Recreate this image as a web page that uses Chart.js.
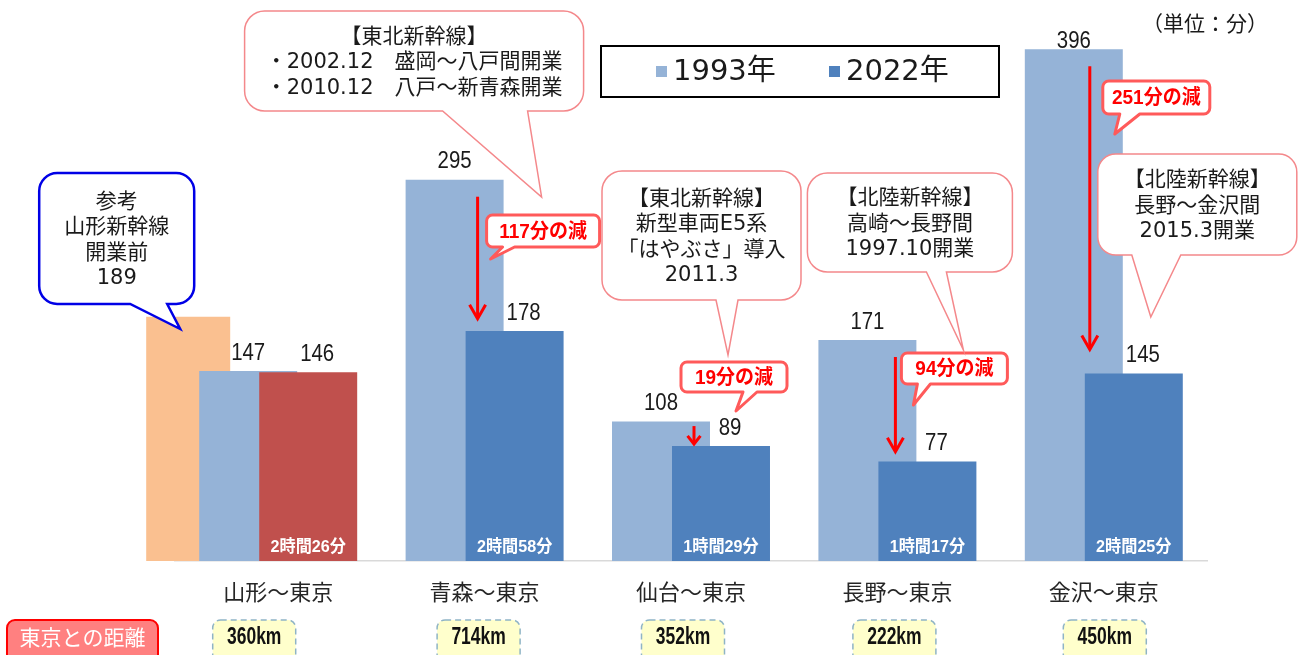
<!DOCTYPE html>
<html lang="ja">
<head>
<meta charset="utf-8">
<script src="https://cdn.jsdelivr.net/npm/chart.js@4/dist/chart.umd.min.js"></script>
<style>
html,body{margin:0;padding:0;background:#fff;}
#wrap{width:1299px;height:655px;position:relative;overflow:hidden;}
canvas{display:block;}
</style>
</head>
<body>
<div id="wrap"><canvas id="c" width="1299" height="655"></canvas></div>
<script>
// ---- data ----
const categories = ['山形～東京', '青森～東京', '仙台～東京', '長野～東京', '金沢～東京'];
const minutes1993 = [147, 295, 108, 171, 396];
const minutes2022 = [146, 178, 89, 77, 145];
const yamagataBeforeOpening = [189, null, null, null, null];
const distanceKm = [360, 714, 352, 222, 450];
const seriesLabels = ['1993年', '2022年'];
const referenceLabel = '山形新幹線開業前';
const unitNote = '（単位：分）';
const distanceTitle = '東京との距離';
const noteTexts = [
  ['参考', '山形新幹線', '開業前', String(yamagataBeforeOpening[0])],
  ['【東北新幹線】', '・2002.12　盛岡～八戸間開業', '・2010.12　八戸～新青森開業'],
  ['【東北新幹線】', '新型車両E5系', '「はやぶさ」導入', '2011.3'],
  ['【北陸新幹線】', '高崎～長野間', '1997.10開業'],
  ['【北陸新幹線】', '長野～金沢間', '2015.3開業']
];

// ---- styles / layout ----
const C_REF = '#fac090', C_1993 = '#95b3d7', C_2022 = '#4f81bd', C_YAMA = '#c0504d';
const colors2022 = categories.map((c, i) => i === 0 ? C_YAMA : C_2022);
const JP = '"Noto Sans CJK JP", "Noto Sans", sans-serif';
const NOTE = '"DejaVu Sans", "Noto Sans CJK JP", sans-serif';
const NUM = '"Liberation Sans", Arial, "Noto Sans CJK JP", sans-serif';

// callout boxes: x offsets relative to category centre, y in pixels
const noteBoxes = [
  {dx: -239, w: 155, y: 173, h: 131, r: 18, b: [-148, -111], tip: [-98, 329], color: '#0000e6', lw: 2.5},
  {dx: -240, w: 339, y: 11, h: 100, r: 20, b: [-42, 43], tip: [57, 197], color: '#f4888b', lw: 1.5},
  {dx: -89, w: 199, y: 171, h: 129, r: 20, b: [25, 47], tip: [37, 355], color: '#f4888b', lw: 1.5},
  {dx: -90, w: 205, y: 173, h: 99, r: 20, b: [29, 49], tip: [66, 350], color: '#f4888b', lw: 1.5},
  {dx: -6, w: 199, y: 154, h: 101, r: 18, b: [28, 77], tip: [47, 317], color: '#f4888b', lw: 1.5}
];
const dropBoxes = [
  null,
  {dx: 2, w: 113, y: 215, h: 32, b: [18, 30], tip: [6, 259], arrowDx: -7},
  {dx: -10, w: 106, y: 362, h: 30, b: [52, 66], tip: [45, 411], arrowDx: 3},
  {dx: 4, w: 106, y: 353, h: 31, b: [20, 33], tip: [16, 405], arrowDx: -2},
  {dx: -1, w: 107, y: 81, h: 33, b: [16, 36], tip: [11, 134], arrowDx: -14}
];
const kmDx = [-24, -6, -8, -3, 1];

function callout(ctx, x, y, w, h, r, b1, b2, tx, ty) {
  ctx.beginPath();
  ctx.moveTo(x + r, y);
  ctx.lineTo(x + w - r, y);
  ctx.arcTo(x + w, y, x + w, y + r, r);
  ctx.lineTo(x + w, y + h - r);
  ctx.arcTo(x + w, y + h, x + w - r, y + h, r);
  if (b2 !== undefined) {
    ctx.lineTo(b2, y + h);
    ctx.lineTo(tx, ty);
    ctx.lineTo(b1, y + h);
  }
  ctx.lineTo(x + r, y + h);
  ctx.arcTo(x, y + h, x, y + h - r, r);
  ctx.lineTo(x, y + r);
  ctx.arcTo(x, y, x + r, y, r);
  ctx.closePath();
}

function narrowText(ctx, text, x, y, sx) {
  ctx.save();
  ctx.translate(x, y);
  ctx.scale(sx, 1);
  ctx.fillText(text, 0, 0);
  ctx.restore();
}

// draw datasets back-to-front so the right-hand (newer) bar overlaps the older one
const drawOrder = [0, 1, 2];
const overlapPlugin = {
  id: 'overlapOrder',
  beforeDatasetsDraw(chart) {
    drawOrder.forEach(i => { if (chart.isDatasetVisible(i)) chart.getDatasetMeta(i).controller.draw(); });
    return false;
  }
};

const annotatePlugin = {
  id: 'annotate',
  afterDraw(chart) {
    const ctx = chart.ctx;
    const xs = chart.scales.x;
    const catX = i => xs.getPixelForValue(i);
    const bar = (d, i) => chart.getDatasetMeta(d).data[i];
    ctx.save();

    // arrows and reduction boxes
    categories.forEach((c, i) => {
      const d = dropBoxes[i];
      if (!d) return;
      const b93 = bar(1, i), b22 = bar(2, i);
      const gap = b22.y - b93.y;
      const ax = catX(i) + d.arrowDx;
      const y0 = b93.y + Math.min(17, gap * 0.19);
      const y1 = b22.y - Math.min(24, gap * 0.08);
      const head = Math.min(14, (y1 - y0) * 0.45);
      const hw = Math.min(8, head * 0.8);
      ctx.strokeStyle = '#ff0000';
      ctx.lineWidth = 3;
      ctx.lineJoin = 'miter';
      ctx.beginPath(); ctx.moveTo(ax, y0); ctx.lineTo(ax, y1 - 1); ctx.stroke();
      ctx.beginPath(); ctx.moveTo(ax - hw, y1 - head); ctx.lineTo(ax, y1); ctx.lineTo(ax + hw, y1 - head); ctx.stroke();

      const cx = catX(i);
      const x = cx + d.dx;
      callout(ctx, x, d.y, d.w, d.h, 6, cx + d.b[0], cx + d.b[1], cx + d.tip[0], d.tip[1]);
      ctx.fillStyle = '#ffffff';
      ctx.fill();
      ctx.strokeStyle = '#ff5a5a';
      ctx.lineWidth = 3;
      ctx.lineJoin = 'round';
      ctx.stroke();
      ctx.fillStyle = '#ff0000';
      ctx.font = '700 20px ' + NUM;
      ctx.textAlign = 'center';
      ctx.textBaseline = 'middle';
      narrowText(ctx, (minutes1993[i] - minutes2022[i]) + '分の減', x + d.w / 2, d.y + d.h / 2 + 1, 0.95);
    });

    // note callouts
    noteBoxes.forEach((n, i) => {
      const cx = catX(i);
      const x = cx + n.dx;
      callout(ctx, x, n.y, n.w, n.h, n.r, cx + n.b[0], cx + n.b[1], cx + n.tip[0], n.tip[1]);
      ctx.fillStyle = '#ffffff';
      ctx.fill();
      ctx.strokeStyle = n.color;
      ctx.lineWidth = n.lw;
      ctx.lineJoin = 'miter';
      ctx.stroke();
      const lines = noteTexts[i];
      const lh = 25.5;
      const midY = n.y + n.h / 2 + 2;
      ctx.fillStyle = '#1a1a1a';
      ctx.font = '21px ' + NOTE;
      ctx.textAlign = 'center';
      ctx.textBaseline = 'middle';
      lines.forEach((t, k) => {
        ctx.fillText(t, x + n.w / 2, midY + (k - (lines.length - 1) / 2) * lh);
      });
    });

    // value labels
    ctx.fillStyle = '#1a1a1a';
    ctx.font = '24px ' + NUM;
    ctx.textAlign = 'center';
    ctx.textBaseline = 'middle';
    categories.forEach((c, i) => {
      const b93 = bar(1, i), b22 = bar(2, i);
      narrowText(ctx, String(minutes1993[i]), b93.x, Math.max(b93.y - 18, 41), 0.85);
      narrowText(ctx, String(minutes2022[i]), b22.x + 9, b22.y - 18, 0.85);
    });

    // time labels inside 2022 bars
    ctx.fillStyle = '#ffffff';
    ctx.font = '700 17px ' + NUM;
    categories.forEach((c, i) => {
      const b22 = bar(2, i);
      const v = minutes2022[i];
      narrowText(ctx, Math.floor(v / 60) + '時間' + (v % 60) + '分', b22.x, b22.base - 14, 0.95);
    });

    // unit note
    ctx.fillStyle = '#1a1a1a';
    ctx.font = '21px ' + JP;
    ctx.fillText(unitNote, 1205, 23);

    // legend box
    ctx.lineWidth = 2;
    ctx.strokeStyle = '#000000';
    ctx.strokeRect(601, 46, 398, 51);
    const legendItems = [
      {label: chart.data.datasets[1].label, color: C_1993, x: 656},
      {label: chart.data.datasets[2].label, color: C_2022, x: 829}
    ];
    ctx.font = '29px ' + NOTE;
    ctx.textAlign = 'left';
    legendItems.forEach(it => {
      ctx.fillStyle = it.color;
      ctx.fillRect(it.x, 66, 11, 11);
      ctx.fillStyle = '#1a1a1a';
      ctx.fillText(it.label, it.x + 17, 72);
    });

    // distance row
    callout(ctx, 7, 620, 151, 46, 8);
    ctx.fillStyle = '#ff8080';
    ctx.fill();
    ctx.strokeStyle = '#ff0000';
    ctx.lineWidth = 2;
    ctx.stroke();
    ctx.fillStyle = '#ffffff';
    ctx.font = '21px ' + JP;
    ctx.textAlign = 'center';
    ctx.fillText(distanceTitle, 82.5, 637);

    categories.forEach((c, i) => {
      const cx = catX(i) + kmDx[i];
      callout(ctx, cx - 41.5, 620, 83, 46, 8);
      ctx.fillStyle = '#ffffcc';
      ctx.fill();
      ctx.setLineDash([6, 4]);
      ctx.strokeStyle = '#8fb4c6';
      ctx.lineWidth = 1.5;
      ctx.stroke();
      ctx.setLineDash([]);
      ctx.fillStyle = '#111111';
      ctx.font = '700 23px ' + NUM;
      narrowText(ctx, distanceKm[i] + 'km', cx, 638, 0.76);
    });

    ctx.restore();
  }
};

new Chart(document.getElementById('c'), {
  type: 'bar',
  data: {
    labels: categories,
    datasets: [
      {label: referenceLabel, data: yamagataBeforeOpening, backgroundColor: C_REF, barPercentage: 1.4},
      {label: seriesLabels[0], data: minutes1993, backgroundColor: C_1993, barPercentage: 1.633},
      {label: seriesLabels[1], data: minutes2022, backgroundColor: colors2022, barPercentage: 1.633},
      {label: '', data: categories.map(() => null), backgroundColor: 'rgba(0,0,0,0)', barPercentage: 1.633}
    ]
  },
  options: {
    responsive: false,
    animation: false,
    events: [],
    layout: {padding: {left: 175, right: 92, top: 44, bottom: 33.6}},
    datasets: {bar: {categoryPercentage: 1.1628, borderWidth: 0}},
    plugins: {legend: {display: false}, tooltip: {enabled: false}},
    scales: {
      x: {
        grid: {display: false, drawTicks: false, tickLength: 0},
        border: {display: true, color: '#d9d9d9', width: 1.5},
        ticks: {autoSkip: false, maxRotation: 0, padding: 17, color: '#262626', font: {family: 'Noto Sans CJK JP', size: 22}}
      },
      y: {display: false, min: 0, max: 400}
    }
  },
  plugins: [overlapPlugin, annotatePlugin]
});
</script>
</body>
</html>
